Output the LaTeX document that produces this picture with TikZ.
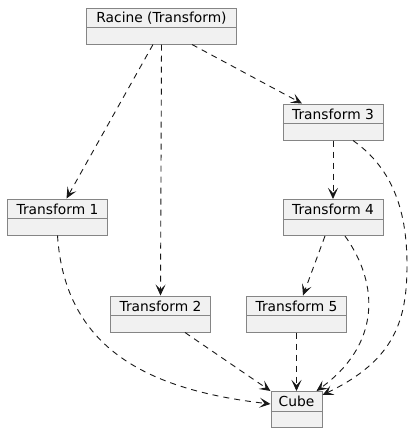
\documentclass[tikz,border=0pt]{standalone}
\usepackage{fontspec}
\setmainfont{DejaVu Sans}
\usetikzlibrary{arrows.meta}
\definecolor{boxfill}{HTML}{F1F1F1}
\definecolor{boxline}{HTML}{858585}
\definecolor{arrowc}{HTML}{181818}
\tikzset{
  obj/.style={draw=boxline, fill=boxfill, line width=1pt, inner sep=0pt, anchor=north},
  objtitle/.style={inner sep=0pt, font=\fontsize{13.8}{16}\selectfont, text=black},
  dep/.style={draw=arrowc, line width=0.9pt, dash pattern=on 6pt off 5pt,
    -{Stealth[length=11pt,width=10pt,inset=5pt]}},
}
\newcommand\objbox[5]{%
  \node[obj, minimum width=#4, minimum height=36] (#1) at (#2,#3) {};
  \draw[boxline, line width=1pt] ([yshift=-20pt]#1.north west) -- ([yshift=-20pt]#1.north east);
  \node[objtitle] (#1-t) at ([yshift=-10.5pt]#1.north) {#5};
}
\begin{document}
\begin{tikzpicture}[x=1pt,y=-1pt]
\useasboundingbox (0,0) rectangle (415,432);
\objbox{r}{161.5}{7.5}{150}{Racine (Transform)}
\objbox{t1}{57.5}{198.5}{100}{Transform 1}
\objbox{t2}{160.5}{295.5}{100}{Transform 2}
\objbox{t3}{333}{103.5}{100}{Transform 3}
\objbox{t4}{333}{199}{100}{Transform 4}
\objbox{t5}{296.5}{295.5}{100}{Transform 5}
\objbox{cube}{296.5}{391}{51}{Cube}
% connectors
\draw[dep] ([xshift=-8.5pt]r.south) -- ([xshift=9pt]t1.north);
\draw[dep] (r.south) -- (t2.north);
\draw[dep] ([xshift=30.5pt]r.south) -- ([xshift=-31pt]t3.north);
\draw[dep] (t3.south) -- (t4.north);
\draw[dep] ([xshift=20pt]t3.south) .. controls (395,170) and (407,215) .. (407,265)
  .. controls (407,320) and (395,360) .. ([yshift=-4pt]cube.north east);
\draw[dep] ([xshift=-8pt]t4.south) -- ([xshift=6.5pt]t5.north);
\draw[dep] ([xshift=12pt]t4.south) .. controls (380,285) and (380,345) .. ([xshift=20pt]cube.north);
\draw[dep] (t5.south) -- (cube.north);
\draw[dep] ([xshift=24.5pt]t2.south) -- (cube.north west);
\draw[dep] (t1.south) .. controls (65,350) and (150,390) .. ([yshift=-13pt]cube.north west);
\end{tikzpicture}
\end{document}
